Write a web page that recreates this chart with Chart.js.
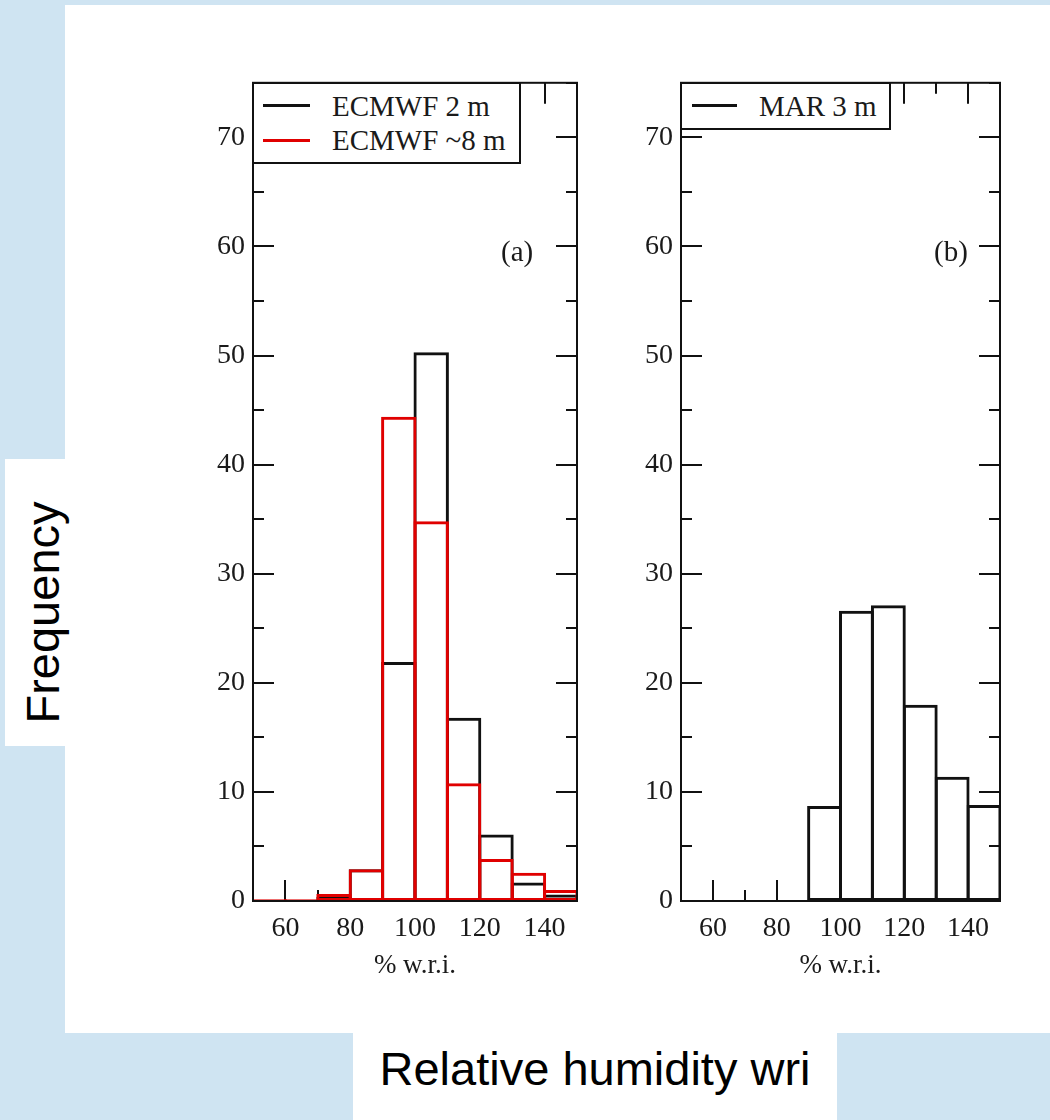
<!DOCTYPE html>
<html>
<head>
<meta charset="utf-8">
<script src="https://cdn.jsdelivr.net/npm/chart.js@4"></script>
<style>
  body { margin: 0; background: #cfe4f2; }
  #page { position: relative; width: 1050px; height: 1120px; overflow: hidden; }
  .abs { position: absolute; }
  .white { background: #fff; }
  .serif { font-family: "Liberation Serif", "Times New Roman", serif; font-size: 29px; line-height: 29px; color: #1a1a1a; white-space: nowrap; }
  .sans { font-family: "Liberation Sans", Arial, sans-serif; font-size: 47px; line-height: 47px; color: #000; white-space: nowrap; }
  .legend { border: 2px solid #111; background: #fff; box-sizing: border-box; }
  .swatch { height: 3px; }
</style>
</head>
<body>
<div id="page">
  <div class="abs white" style="left:65px;top:5px;width:985px;height:1028px"></div>
  <div class="abs white" style="left:5px;top:459px;width:60px;height:287px"></div>
  <div class="abs white" style="left:353px;top:1033px;width:484px;height:87px"></div>

  <canvas id="chartA" class="abs" width="400" height="942" style="left:190px;top:58px"></canvas>
  <canvas id="chartB" class="abs" width="393" height="942" style="left:620px;top:58px"></canvas>

  <!-- legend (a) -->
  <div class="abs legend" style="left:252px;top:82px;width:269px;height:82px"></div>
  <div class="abs swatch" style="left:263px;top:104px;width:47px;background:#111"></div>
  <div class="abs swatch" style="left:263px;top:139px;width:47px;background:#e00000"></div>
  <div class="abs serif" style="left:332px;top:92px">ECMWF 2 m</div>
  <div class="abs serif" style="left:332px;top:126px">ECMWF ~8 m</div>
  <div class="abs serif" style="left:501px;top:237px">(a)</div>

  <!-- legend (b) -->
  <div class="abs legend" style="left:680px;top:82px;width:211px;height:48px"></div>
  <div class="abs swatch" style="left:692px;top:104px;width:45px;background:#111"></div>
  <div class="abs serif" style="left:759px;top:92px">MAR 3 m</div>
  <div class="abs serif" style="left:934px;top:237px">(b)</div>

  <div class="abs sans" style="left:-108px;top:589px;width:300px;height:47px;text-align:center;transform:rotate(-90deg)">Frequency</div>
  <div class="abs sans" style="left:353px;top:1045px;width:484px;text-align:center">Relative humidity wri</div>
</div>

<script>
// bins are 10 % wide, from 50 to 150
const binCenters = [55, 65, 75, 85, 95, 105, 115, 125, 135, 145];
const ecmwf2m = [0, 0, 0.4, 2.9, 21.9, 50.3, 16.8, 6.1, 1.7, 0.6];
const ecmwf8m = [0.15, 0.15, 0.65, 2.9, 44.4, 34.8, 10.8, 3.85, 2.6, 1.0];
const mar3m = [0, 0, 0, 0, 8.7, 26.6, 27.1, 18.0, 11.4, 8.8];
const xTickLabels = [60, 80, 100, 120, 140];
const yTickLabels = [0, 10, 20, 30, 40, 50, 60, 70];

const serif = '"Liberation Serif", "Times New Roman", serif';

// grace-style frame with inward ticks on all four sides
const frameTicks = {
  id: 'frameTicks',
  beforeDatasetsDraw(chart) {
    const { ctx, chartArea: a, scales: { x, y } } = chart;
    ctx.save();
    ctx.strokeStyle = '#111';
    ctx.lineWidth = 2;
    ctx.beginPath();
    for (let v = x.min; v <= x.max; v += 10) {
      const px = Math.round(x.getPixelForValue(v));
      const len = v % 20 === 0 ? 21 : 11;
      ctx.moveTo(px, a.bottom); ctx.lineTo(px, a.bottom - len);
      ctx.moveTo(px, a.top); ctx.lineTo(px, a.top + len);
    }
    for (let v = y.min; v <= y.max; v += 5) {
      const py = Math.round(y.getPixelForValue(v));
      const len = v % 10 === 0 ? 21 : 11;
      ctx.moveTo(a.left, py); ctx.lineTo(a.left + len, py);
      ctx.moveTo(a.right, py); ctx.lineTo(a.right - len, py);
    }
    ctx.stroke();
    ctx.restore();
  },
  afterDraw(chart) {
    const { ctx, chartArea: a } = chart;
    ctx.save();
    ctx.strokeStyle = '#111';
    ctx.lineWidth = 2;
    ctx.strokeRect(a.left, a.top, a.right - a.left, a.bottom - a.top);
    ctx.restore();
  }
};

function toPoints(values) {
  return binCenters.map((c, i) => ({ x: c, y: values[i] }));
}

function histDataset(values, color, order) {
  return {
    data: toPoints(values),
    borderColor: color,
    backgroundColor: 'rgba(0,0,0,0)',
    borderWidth: 3,
    borderSkipped: false,
    grouped: false,
    barPercentage: 1.093,
    categoryPercentage: 1,
    order: order
  };
}

function makeChart(id, datasets, yWidth) {
  return new Chart(document.getElementById(id), {
    type: 'bar',
    data: { datasets: datasets },
    plugins: [frameTicks],
    options: {
      responsive: false,
      animation: false,
      devicePixelRatio: 1,
      layout: { padding: { top: 13, right: 13, left: 0, bottom: 0 } },
      plugins: { legend: { display: false }, tooltip: { enabled: false } },
      scales: {
        x: {
          type: 'linear',
          min: 50,
          max: 150,
          offset: false,
          grid: { display: false, drawTicks: false },
          border: { display: false },
          afterBuildTicks: s => { s.ticks = xTickLabels.map(v => ({ value: v })); },
          afterFit: s => { s.height = 99; },
          ticks: { autoSkip: false, maxRotation: 0, padding: 11, color: '#1a1a1a', font: { family: serif, size: 28 } },
          title: {
            display: true,
            text: '% w.r.i.',
            color: '#1a1a1a',
            font: { family: serif, size: 27, lineHeight: 1.2 },
            padding: { top: 0, bottom: 18 }
          }
        },
        y: {
          min: 0,
          max: 75,
          grid: { display: false, drawTicks: false },
          border: { display: false },
          afterBuildTicks: s => { s.ticks = yTickLabels.map(v => ({ value: v })); },
          afterFit: s => { s.width = yWidth; },
          ticks: { padding: 8, color: '#1a1a1a', font: { family: serif, size: 28 } }
        }
      }
    }
  });
}

makeChart('chartA', [
  histDataset(ecmwf2m, '#111', 2),
  histDataset(ecmwf8m, '#e00000', 1)
], 63);

makeChart('chartB', [
  histDataset(mar3m, '#111', 1)
], 61);
</script>
</body>
</html>
